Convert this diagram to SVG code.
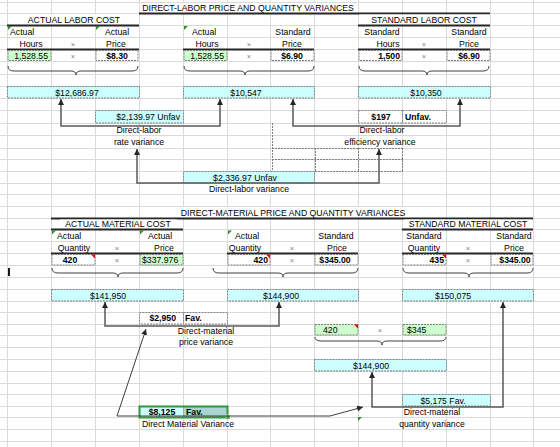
<svg xmlns="http://www.w3.org/2000/svg" width="560" height="447" viewBox="0 0 560 447">
<style>
.t{font-family:"Liberation Sans",Arial,sans-serif;font-size:8.7px;fill:#000}
.b{font-weight:bold}
.m{text-anchor:middle}
.e{text-anchor:end}
.x{font-family:"Liberation Sans",Arial,sans-serif;font-size:7.5px;fill:#808080;text-anchor:middle}
.cy{fill:#ccffff;stroke:#7f7f7f;stroke-width:1;stroke-dasharray:2,1}
.gr{fill:#ccffcc;stroke:#7f7f7f;stroke-width:1;stroke-dasharray:2,1}
.wh{fill:#ffffff;stroke:#7f7f7f;stroke-width:1;stroke-dasharray:2,1}
.dl{fill:none;stroke:#7f7f7f;stroke-width:1;stroke-dasharray:2,1}
.grid line{stroke:#dadada;stroke-width:1}
.thick{stroke:#262626;stroke-width:2}
.brace{fill:none;stroke:#404040;stroke-width:1}
.con{fill:none;stroke:#595959;stroke-width:1.5}
.con2{fill:none;stroke:#3f3f3f;stroke-width:1}
.gt{fill:#2e8b2e}
.rt{fill:#e00000}
</style>
<defs>
<marker id="ah" viewBox="0 0 10 10" refX="10" refY="5" markerWidth="6" markerHeight="6" markerUnits="userSpaceOnUse" orient="auto-start-reverse">
<path d="M0,0 L10,5 L0,10 z" fill="#262626"/>
</marker>
</defs>
<rect x="0" y="0" width="560" height="447" fill="#ffffff"/>
<g class="grid" id="grid">
<line x1="7.5" y1="0" x2="7.5" y2="447"/><line x1="51.5" y1="0" x2="51.5" y2="447"/><line x1="95.5" y1="0" x2="95.5" y2="447"/><line x1="139.5" y1="0" x2="139.5" y2="447"/><line x1="183.5" y1="0" x2="183.5" y2="447"/><line x1="227.5" y1="0" x2="227.5" y2="447"/><line x1="270.5" y1="0" x2="270.5" y2="447"/><line x1="314.5" y1="0" x2="314.5" y2="447"/><line x1="358.5" y1="0" x2="358.5" y2="447"/><line x1="402.5" y1="0" x2="402.5" y2="447"/><line x1="446.5" y1="0" x2="446.5" y2="447"/><line x1="490.5" y1="0" x2="490.5" y2="447"/><line x1="533.5" y1="0" x2="533.5" y2="447"/>
<line x1="0" y1="2.5" x2="560" y2="2.5"/><line x1="0" y1="13.5" x2="560" y2="13.5"/><line x1="0" y1="25.5" x2="560" y2="25.5"/><line x1="0" y1="37.5" x2="560" y2="37.5"/><line x1="0" y1="49.5" x2="560" y2="49.5"/><line x1="0" y1="61.5" x2="560" y2="61.5"/><line x1="0" y1="74.5" x2="560" y2="74.5"/><line x1="0" y1="86.5" x2="560" y2="86.5"/><line x1="0" y1="98.5" x2="560" y2="98.5"/><line x1="0" y1="110.5" x2="560" y2="110.5"/><line x1="0" y1="123.5" x2="560" y2="123.5"/><line x1="0" y1="135.5" x2="560" y2="135.5"/><line x1="0" y1="148.5" x2="560" y2="148.5"/><line x1="0" y1="159.5" x2="560" y2="159.5"/><line x1="0" y1="171.5" x2="560" y2="171.5"/><line x1="0" y1="183.5" x2="560" y2="183.5"/><line x1="0" y1="194.5" x2="560" y2="194.5"/><line x1="0" y1="206.5" x2="560" y2="206.5"/><line x1="0" y1="218.5" x2="560" y2="218.5"/><line x1="0" y1="229.5" x2="560" y2="229.5"/><line x1="0" y1="241.5" x2="560" y2="241.5"/><line x1="0" y1="253.5" x2="560" y2="253.5"/><line x1="0" y1="265.5" x2="560" y2="265.5"/><line x1="0" y1="277.5" x2="560" y2="277.5"/><line x1="0" y1="289.5" x2="560" y2="289.5"/><line x1="0" y1="301.5" x2="560" y2="301.5"/><line x1="0" y1="312.5" x2="560" y2="312.5"/><line x1="0" y1="324.5" x2="560" y2="324.5"/><line x1="0" y1="335.5" x2="560" y2="335.5"/><line x1="0" y1="347.5" x2="560" y2="347.5"/><line x1="0" y1="359.5" x2="560" y2="359.5"/><line x1="0" y1="371.5" x2="560" y2="371.5"/><line x1="0" y1="383.5" x2="560" y2="383.5"/><line x1="0" y1="394.5" x2="560" y2="394.5"/><line x1="0" y1="406.5" x2="560" y2="406.5"/><line x1="0" y1="417.5" x2="560" y2="417.5"/><line x1="0" y1="429.5" x2="560" y2="429.5"/><line x1="0" y1="441.5" x2="560" y2="441.5"/>
</g>
<g id="labor-header">
<rect x="140" y="3" width="218" height="10" fill="#fff"/>
<text class="t m" x="248" y="11">DIRECT-LABOR PRICE AND QUANTITY VARIANCES</text>
<line class="thick" x1="139" y1="13.5" x2="490" y2="13.5"/>
<rect x="8" y="14.5" width="131" height="10" fill="#fff"/>
<text class="t m" x="74" y="22.5">ACTUAL LABOR COST</text>
<rect x="359" y="14.5" width="131" height="10" fill="#fff"/>
<text class="t m" x="424" y="22.5">STANDARD LABOR COST</text>
<line class="thick" x1="7" y1="25.5" x2="139" y2="25.5"/>
<line class="thick" x1="358" y1="25.5" x2="490" y2="25.5"/>
<line class="thick" x1="7" y1="49.5" x2="139" y2="49.5"/>
<line class="thick" x1="183" y1="49.5" x2="314" y2="49.5"/>
<line class="thick" x1="358" y1="49.5" x2="490" y2="49.5"/>
</g>
<g id="actual-labor-cost">
<text class="t" x="10" y="34.5">Actual</text>
<text class="t m" x="117" y="34.5">Actual</text>
<text class="t m" x="31" y="46.5">Hours</text>
<text class="x" x="73" y="46.5">×</text>
<text class="t m" x="116" y="46.5">Price</text>
<rect class="gr" x="8" y="50.5" width="43" height="10"/>
<text class="t e" x="48" y="58.5">1,528.55</text>
<text class="x" x="73" y="58.5">×</text>
<rect class="wh" x="96" y="50.5" width="42" height="10"/>
<text class="t b m" x="117" y="58.5">$8.30</text>
<path class="gt" d="M8,26 L12,26 L8,30 z"/>
<path class="gt" d="M96,26 L100,26 L96,30 z"/>
</g>
<g id="actual-hours-std-price">
<text class="t" x="192" y="34.5">Actual</text>
<text class="t m" x="293" y="34.5">Standard</text>
<text class="t m" x="207" y="46.5">Hours</text>
<text class="x" x="249" y="46.5">×</text>
<text class="t m" x="292" y="46.5">Price</text>
<rect class="gr" x="184" y="50.5" width="43" height="10"/>
<text class="t e" x="224" y="58.5">1,528.55</text>
<text class="x" x="249" y="58.5">×</text>
<rect class="wh" x="271" y="50.5" width="43" height="10"/>
<text class="t b m" x="292" y="58.5">$6.90</text>
<path class="gt" d="M184,26 L188,26 L184,30 z"/>
</g>
<g id="standard-labor-cost">
<text class="t m" x="382" y="34.5">Standard</text>
<text class="t m" x="469" y="34.5">Standard</text>
<text class="t m" x="388" y="46.5">Hours</text>
<text class="x" x="424" y="46.5">×</text>
<text class="t m" x="469" y="46.5">Price</text>
<rect class="wh" x="359" y="50.5" width="43" height="10"/>
<text class="t b e" x="400" y="58.5">1,500</text>
<text class="x" x="424" y="58.5">×</text>
<rect class="wh" x="447" y="50.5" width="43" height="10"/>
<text class="t b m" x="469" y="58.5">$6.90</text>
</g>
<g id="labor-braces">
<path class="brace" d="M8,66 Q8,71 14,71 L71,71 Q76,71 76,75 Q76,71 81,71 L132,71 Q138,71 138,66"/>
<path class="brace" d="M184,66 Q184,71 190,71 L240,71 Q245,71 245,75 Q245,71 250,71 L308,71 Q314,71 314,66"/>
<path class="brace" d="M359,66 Q359,71 365,71 L422,71 Q427,71 427,75 Q427,71 432,71 L483,71 Q489,71 489,66"/>
</g>
<g id="labor-dashed-cells">
<path class="dl" d="M272.5,123 V183 M272,148.5 H403 M272,159.5 H403 M315,171.5 H403 M315.5,148 V171 M358.5,148 V171 M402.5,148 V171"/>
</g>
<g id="actual-labor-total">
<rect class="cy" x="7.5" y="86.5" width="132" height="11.5"/>
<text class="t m" x="77" y="95.5">$12,686.97</text>
</g>
<g id="ah-sp-total">
<rect class="cy" x="183.5" y="86.5" width="131" height="11.5"/>
<text class="t m" x="246" y="95.5">$10,547</text>
</g>
<g id="standard-labor-total">
<rect class="cy" x="358.5" y="86.5" width="132" height="11.5"/>
<text class="t m" x="426" y="95.5">$10,350</text>
</g>
<g id="rate-variance">
<rect class="cy" x="95.5" y="110.5" width="88" height="12.5"/>
<text class="t e" x="180" y="120">$2,139.97 Unfav</text>
<text class="t m" x="139" y="133">Direct-labor</text>
<text class="t m" x="139" y="145">rate variance</text>
</g>
<g id="efficiency-variance">
<rect class="wh" x="358.5" y="110.5" width="44" height="12.5"/>
<rect class="wh" x="402.5" y="110.5" width="44" height="12.5"/>
<text class="t b m" x="381" y="120">$197</text>
<text class="t b" x="405" y="120">Unfav.</text>
<text class="t m" x="382" y="133">Direct-labor</text>
<text class="t m" x="380" y="145">efficiency variance</text>
</g>
<g id="labor-variance">
<rect class="cy" x="183.5" y="171.5" width="131" height="11.5"/>
<text class="t m" x="245" y="180.5">$2,336.97 Unfav</text>
<rect x="205" y="184" width="90" height="10" fill="#fff"/>
<text class="t m" x="249" y="192">Direct-labor variance</text>
</g>
<g id="material-header">
<rect x="176" y="207" width="236" height="10" fill="#fff"/>
<text class="t m" x="293" y="215.5">DIRECT-MATERIAL PRICE AND QUANTITY VARIANCES</text>
<line class="thick" x1="51" y1="218.5" x2="533" y2="218.5"/>
<rect x="60" y="219.5" width="117" height="9" fill="#fff"/>
<text class="t m" x="118" y="227">ACTUAL MATERIAL COST</text>
<rect x="404" y="219.5" width="128" height="9" fill="#fff"/>
<text class="t m" x="468" y="227">STANDARD MATERIAL COST</text>
<line class="thick" x1="51" y1="229.5" x2="183" y2="229.5"/>
<line class="thick" x1="402" y1="229.5" x2="533" y2="229.5"/>
<line class="thick" x1="51" y1="253.5" x2="183" y2="253.5"/>
<line class="thick" x1="227" y1="253.5" x2="358" y2="253.5"/>
<line class="thick" x1="402" y1="253.5" x2="533" y2="253.5"/>
</g>
<g id="actual-material-cost">
<text class="t" x="57" y="238.5">Actual</text>
<text class="t m" x="160" y="238.5">Actual</text>
<text class="t m" x="74" y="250.5">Quantity</text>
<text class="x" x="117" y="250.5">×</text>
<text class="t m" x="164" y="250.5">Price</text>
<rect class="wh" x="52" y="254.5" width="43" height="10.5"/>
<text class="t b m" x="70" y="262.5">420</text>
<path class="rt" d="M91,254.5 L95,254.5 L95,258.5 z"/>
<text class="x" x="117" y="262.5">×</text>
<rect class="gr" x="140" y="254.5" width="43" height="10.5"/>
<text class="t" x="142" y="262.5">$337.976</text>
<path class="gt" d="M52,230.5 L56,230.5 L52,234.5 z"/>
<path class="gt" d="M140,230.5 L144,230.5 L140,234.5 z"/>
</g>
<g id="aq-sp">
<text class="t" x="235" y="238.5">Actual</text>
<text class="t m" x="336" y="238.5">Standard</text>
<text class="t m" x="245" y="250.5">Quantity</text>
<text class="x" x="292" y="250.5">×</text>
<text class="t m" x="337" y="250.5">Price</text>
<rect class="wh" x="228" y="254.5" width="42" height="10.5"/>
<text class="t b e" x="268" y="262.5">420</text>
<path class="rt" d="M266,254.5 L270,254.5 L270,258.5 z"/>
<text class="x" x="292" y="262.5">×</text>
<rect class="wh" x="315" y="254.5" width="43" height="10.5"/>
<text class="t b m" x="335" y="262.5">$345.00</text>
<path class="gt" d="M228,230.5 L232,230.5 L228,234.5 z"/>
</g>
<g id="standard-material-cost">
<text class="t m" x="424" y="238.5">Standard</text>
<text class="t m" x="514" y="238.5">Standard</text>
<text class="t m" x="424" y="250.5">Quantity</text>
<text class="x" x="468" y="250.5">×</text>
<text class="t m" x="514" y="250.5">Price</text>
<rect class="wh" x="403" y="254.5" width="43" height="10.5"/>
<text class="t b e" x="444" y="262.5">435</text>
<path class="rt" d="M442,254.5 L446,254.5 L446,258.5 z"/>
<text class="x" x="468" y="262.5">×</text>
<rect class="wh" x="491" y="254.5" width="42" height="10.5"/>
<text class="t b m" x="515" y="262.5">$345.00</text>
</g>
<g id="material-braces">
<path class="brace" d="M52,268 Q52,273 58,273 L113,273 Q118,273 118,277 Q118,273 123,273 L177,273 Q183,273 183,268"/>
<path class="brace" d="M213,268 Q213,273 219,273 L278,273 Q283,273 283,277 Q283,273 288,273 L352,273 Q358,273 358,268"/>
<path class="brace" d="M403,268 Q403,273 409,273 L464,273 Q469,273 469,277 Q469,273 474,273 L527,273 Q533,273 533,268"/>
<path class="brace" d="M315,337 Q315,341 321,341 L377,341 Q382,341 382,345 Q382,341 387,341 L440,341 Q446,341 446,337"/>
</g>
<rect x="8" y="268" width="2" height="8" fill="#1a1a1a"/>
<g id="actual-material-total">
<rect class="cy" x="51.5" y="289.5" width="132" height="11.5"/>
<text class="t m" x="108" y="298.5">$141,950</text>
</g>
<g id="aq-sp-total">
<rect class="cy" x="227.5" y="289.5" width="131" height="11.5"/>
<text class="t m" x="281" y="298.5">$144,900</text>
</g>
<g id="standard-material-total">
<rect class="cy" x="402.5" y="289.5" width="131" height="11.5"/>
<text class="t m" x="453" y="298.5">$150,075</text>
</g>
<g id="price-variance">
<rect class="wh" x="139.5" y="312.5" width="44" height="11.5"/>
<rect class="wh" x="183.5" y="312.5" width="44" height="11.5"/>
<text class="t b e" x="176" y="321">$2,950</text>
<text class="t b" x="185" y="321">Fav.</text>
<text class="t m" x="206" y="334">Direct-material</text>
<text class="t m" x="206" y="345">price variance</text>
</g>
<g id="sq-sp">
<rect class="gr" x="315" y="324.5" width="43" height="10.5"/>
<text class="t" x="323" y="332.5">420</text>
<path class="rt" d="M354,324.5 L358,324.5 L358,328.5 z"/>
<text class="x" x="380" y="332.5">×</text>
<rect class="gr" x="403" y="324.5" width="43" height="10.5"/>
<text class="t" x="407" y="332.5">$345</text>
</g>
<g id="sq-sp-total">
<rect class="cy" x="314.5" y="359.5" width="132" height="11.5"/>
<text class="t m" x="371" y="368.5">$144,900</text>
</g>
<g id="quantity-variance">
<rect class="cy" x="402.5" y="394.5" width="88" height="11.5"/>
<text class="t m" x="443" y="403.5">$5,175 Fav.</text>
<text class="t m" x="432" y="415">Direct-material</text>
<text class="t m" x="432" y="427">quantity variance</text>
<path class="gt" d="M358,417 L362,417 L358,421 z"/>
</g>
<g id="material-variance">
<rect x="140" y="407" width="43" height="10" fill="#ccffff"/>
<rect x="183" y="407" width="44" height="10" fill="#a8d4d2"/>
<line x1="183.5" y1="407" x2="183.5" y2="417" stroke="#9ab" stroke-width="1"/>
<rect x="139.5" y="406.5" width="88" height="11" fill="none" stroke="#2f9a3a" stroke-width="2"/>
<rect x="226" y="415" width="4" height="4" fill="#2f9a3a" stroke="#fff" stroke-width="0.5"/>
<text class="t b m" x="162" y="415">$8,125</text>
<text class="t b" x="186" y="415">Fav.</text>
<text class="t" x="142" y="427">Direct Material Variance</text>
</g>
<g id="connectors">
<path class="con" d="M61,99 V126 H220 V99" marker-start="url(#ah)" marker-end="url(#ah)"/>
<path class="con" d="M293,99 V126 H460 V99" marker-start="url(#ah)" marker-end="url(#ah)"/>
<path class="con" d="M137,149 V183 H379 V149" marker-start="url(#ah)" marker-end="url(#ah)"/>
<path class="con" d="M105,302 V326 H279 V302" marker-start="url(#ah)" marker-end="url(#ah)"/>
<path class="con" d="M372,372 V407 H503 V302" marker-start="url(#ah)" marker-end="url(#ah)"/>
<path class="con2" d="M146,329 L117,416 L330,416 L363,407" marker-start="url(#ah)" marker-end="url(#ah)"/>
</g>
</svg>
